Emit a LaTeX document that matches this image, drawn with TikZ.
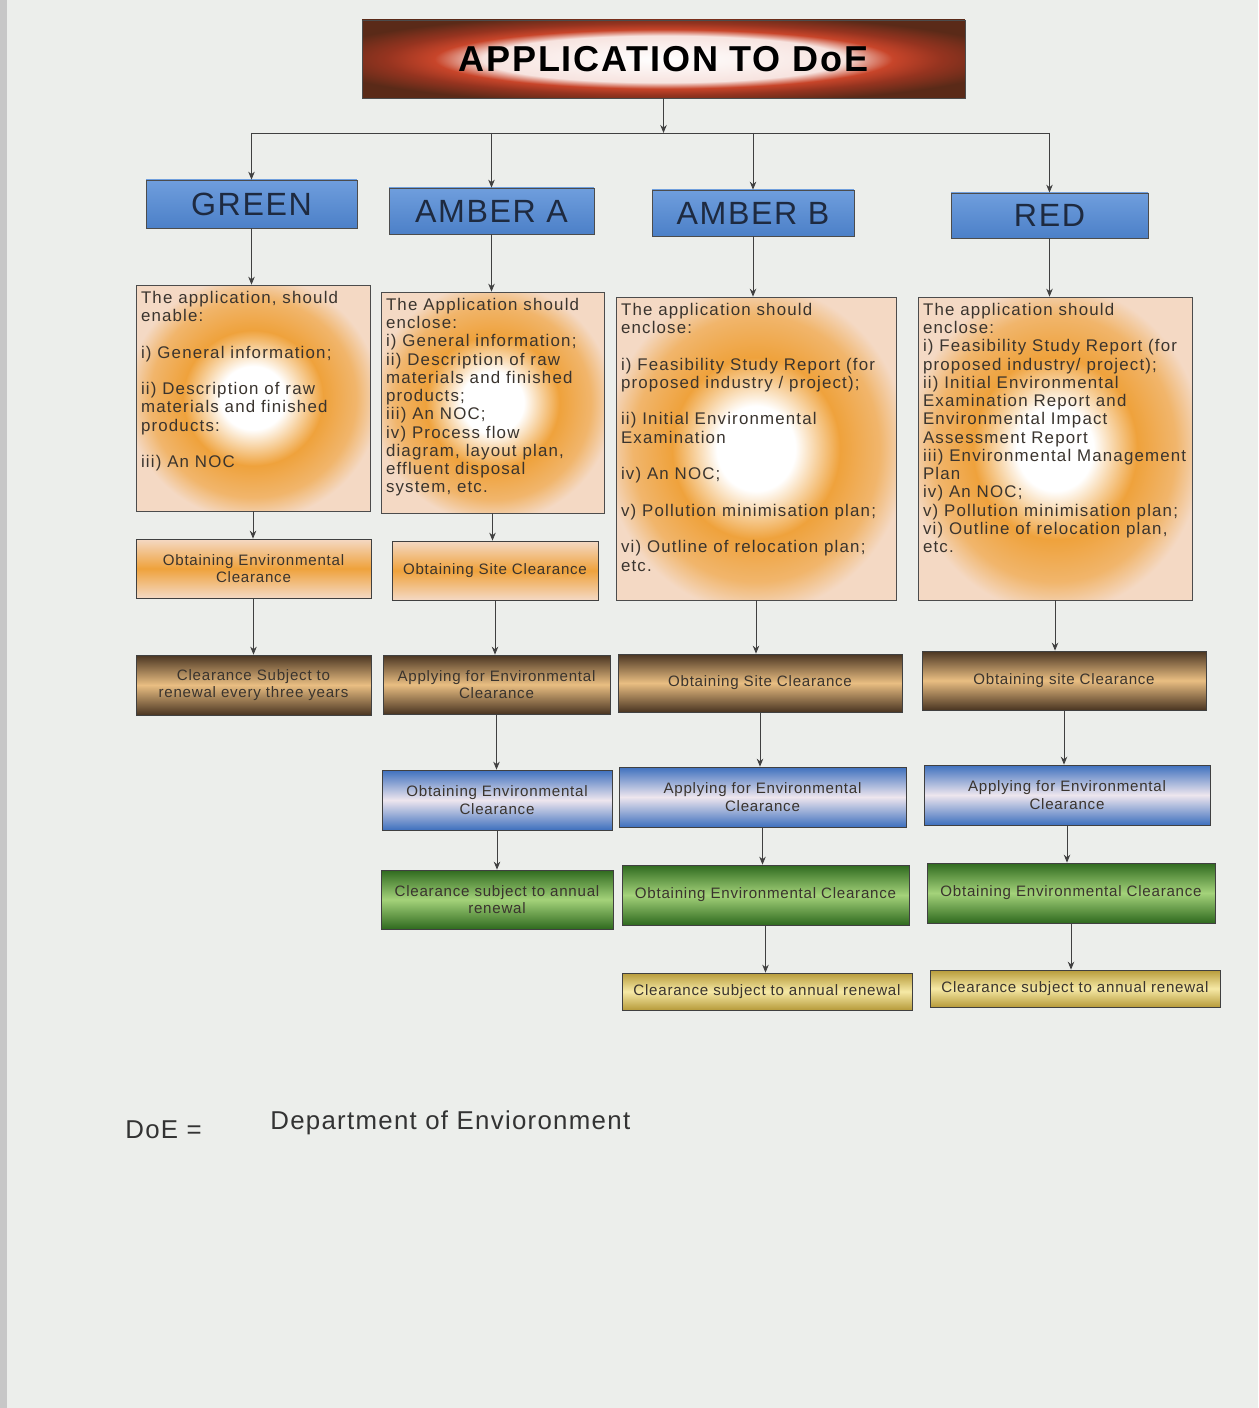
\documentclass[tikz,border=0pt]{standalone}
\usepackage{fontspec}
\setmainfont{Liberation Sans}[LetterSpace=5]
\newfontfamily\detailfont{Liberation Sans}[LetterSpace=7]
\usetikzlibrary{arrows.meta,positioning}
\definecolor{pagebg}{HTML}{ECEEEB}
\definecolor{hdrtop}{HTML}{6F9EDD}
\definecolor{hdrbot}{HTML}{4C80C8}
\definecolor{hdrtext}{HTML}{1E2A40}
\definecolor{ringorange}{HTML}{EFA23C}
\definecolor{ringedge}{HTML}{F4D9C4}
\definecolor{brndark}{HTML}{4A3522}
\definecolor{brntan}{HTML}{E9BE82}
\definecolor{bluedark}{HTML}{3E70BE}
\definecolor{bluelight}{HTML}{EEE6EE}
\definecolor{grndark}{HTML}{2F6A1F}
\definecolor{grnlight}{HTML}{A4D27A}
\definecolor{golddark}{HTML}{B79B3A}
\definecolor{goldlight}{HTML}{F6E9A6}
\definecolor{titlered}{HTML}{C8452A}
\definecolor{titlebrown}{HTML}{5A2A18}
\definecolor{txt}{HTML}{3A342E}
\pgfdeclareradialshading{ringfill}{\pgfpoint{0bp}{0bp}}{color(0bp)=(white); color(7bp)=(white); color(15bp)=(ringorange); color(22bp)=(ringorange!65!ringedge); color(27bp)=(ringedge); color(50bp)=(ringedge)}
\pgfdeclareradialshading{titlefill}{\pgfpoint{0bp}{0bp}}{color(0bp)=(white); color(15bp)=(white!85!titlered); color(19bp)=(titlered); color(23bp)=(titlered!75!black); color(29bp)=(titlebrown); color(50bp)=(titlebrown)}
\newcommand{\detailtext}[3]{\parbox[c][#2][t]{#1}{\raggedright #3}}
\tikzset{
  titlebox/.style={draw=black!70, shade, shading=titlefill, font=\bfseries\fontsize{20.5}{24}\selectfont, inner sep=0pt, minimum width=12.06cm, minimum height=1.56cm},
  hdr/.style={draw=black!70, top color=hdrtop, bottom color=hdrbot, text=hdrtext, font=\fontsize{18.3}{20}\selectfont, inner sep=0pt},
  detail/.style={draw=black!70, shade, shading=ringfill, inner xsep=0.1cm, inner ysep=0.12cm, text=txt, font=\detailfont\fontsize{9.6}{10.4}\selectfont},
  cbox/.style={draw=black!75, align=center, inner sep=1pt, text=txt, font=\fontsize{8.6}{9.8}\selectfont},
  orangebox/.style={cbox, top color=ringedge, bottom color=ringedge, middle color=ringorange},
  brownbox/.style={cbox, top color=brndark, bottom color=brndark, middle color=brntan},
  bluebox/.style={cbox, top color=bluedark, bottom color=bluedark, middle color=bluelight},
  greenbox/.style={cbox, top color=grndark, bottom color=grndark, middle color=grnlight},
  goldbox/.style={cbox, top color=golddark, bottom color=golddark, middle color=goldlight},
  foot/.style={inner sep=0pt, anchor=west, text=black!80, font=\fontsize{14.7}{17}\selectfont},
  arr/.style={-{Stealth[length=1.6mm,width=1.3mm]}, line width=0.5pt, draw=black!75},
  plain/.style={line width=0.5pt, draw=black!75},
}
\begin{document}
\begin{tikzpicture}[x=0.02cm,y=-0.02cm]
\useasboundingbox (0,0) rectangle (1258,1408);
\fill[pagebg] (0,0) rectangle (1258,1408);
\fill[black!22] (0,0) rectangle (7,1408);
% title and categories
\node[titlebox] (title) at (663.5,59) {APPLICATION TO DoE};
\coordinate (bus) at (666,133);
\node[hdr, minimum width=4.22cm, minimum height=0.96cm] (hG) at (251.5,204) {GREEN};
\node[hdr, minimum width=4.10cm, minimum height=0.92cm] (hA) at (491.5,211) {AMBER A};
\node[hdr, minimum width=4.04cm, minimum height=0.92cm] (hB) at (753,213) {AMBER B};
\node[hdr, minimum width=3.94cm, minimum height=0.90cm] (hR) at (1049.5,215.5) {RED};
% what the application encloses
\node[detail] (dG) at (253,398) {\detailtext{4.48cm}{4.28cm}{The application, should\\ enable:\\[10.4pt] i) General information;\\[10.4pt] ii) Description of raw\\ materials and finished\\ products:\\[10.4pt] iii) An NOC}};
\node[detail] (dA) at (492.5,402.5) {\detailtext{4.26cm}{4.18cm}{The Application should\\ enclose:\\ i) General information;\\ ii) Description of raw\\ materials and finished\\ products;\\ iii) An NOC;\\ iv) Process flow\\ diagram, layout plan,\\ effluent disposal\\ system, etc.}};
\node[detail] (dB) at (756,448.5) {\detailtext{5.40cm}{5.82cm}{The application should\\ enclose:\\[10.4pt] i) Feasibility Study Report (for\\ proposed industry / project);\\[10.4pt] ii) Initial Environmental\\ Examination\\[10.4pt] iv) An NOC;\\[10.4pt] v) Pollution minimisation plan;\\[10.4pt] vi) Outline of relocation plan;\\ etc.}};
\node[detail] (dR) at (1055,448.5) {\detailtext{5.28cm}{5.82cm}{The application should\\ enclose:\\ i) Feasibility Study Report (for\\ proposed industry/ project);\\ ii) Initial Environmental\\ Examination Report and\\ Environmental Impact\\ Assessment Report\\ iii) Environmental Management\\ Plan\\ iv) An NOC;\\ v) Pollution minimisation plan;\\ vi) Outline of relocation plan,\\ etc.}};
% steps
\node[orangebox, minimum width=4.70cm, minimum height=1.18cm] (G2) at (253.5,568.5) {Obtaining Environmental\\Clearance};
\node[orangebox, minimum width=4.12cm, minimum height=1.18cm] (A2) at (495,570.5) {Obtaining Site Clearance};
\node[brownbox, minimum width=4.70cm, minimum height=1.20cm] (G3) at (253.5,685) {Clearance Subject to\\renewal every three years};
\node[brownbox, minimum width=4.54cm, minimum height=1.18cm] (A3) at (496.5,684.5) {Applying for Environmental\\Clearance};
\node[brownbox, minimum width=5.68cm, minimum height=1.16cm] (B3) at (760,683) {Obtaining Site Clearance};
\node[brownbox, minimum width=5.68cm, minimum height=1.18cm] (R3) at (1064,680.5) {Obtaining site Clearance};
\node[bluebox, minimum width=4.60cm, minimum height=1.20cm] (A4) at (497,800) {Obtaining Environmental\\Clearance};
\node[bluebox, minimum width=5.74cm, minimum height=1.20cm] (B4) at (762.5,797) {Applying for Environmental\\Clearance};
\node[bluebox, minimum width=5.72cm, minimum height=1.20cm] (R4) at (1067,795) {Applying for Environmental\\Clearance};
\node[greenbox, minimum width=4.64cm, minimum height=1.18cm] (A5) at (497,899.5) {Clearance subject to annual\\renewal};
\node[greenbox, minimum width=5.74cm, minimum height=1.20cm] (B5) at (765.5,895) {Obtaining Environmental Clearance};
\node[greenbox, minimum width=5.76cm, minimum height=1.20cm] (R5) at (1071,893) {Obtaining Environmental Clearance};
\node[goldbox, minimum width=5.80cm, minimum height=0.74cm] (B6) at (767,991.5) {Clearance subject to annual renewal};
\node[goldbox, minimum width=5.80cm, minimum height=0.74cm] (R6) at (1075,988.5) {Clearance subject to annual renewal};
% legend
\node[foot] (doe) at (125,1130) {DoE =};
\node[foot] (dept) at (270,1123) {Department of Envioronment};
% connectors
\draw[arr] (title.south) -- (title.south |- bus);
\draw[plain] (hG.north |- bus) -- (hR.north |- bus);
\foreach \n in {hG,hA,hB,hR}
  \draw[arr] (\n.north |- bus) -- (\n.north);
\foreach \a/\b in {hG/dG, dG/G2, G2/G3, hA/dA, dA/A2, A2/A3, A3/A4, A4/A5, hB/dB, dB/B3, B3/B4, B4/B5, B5/B6, hR/dR, dR/R3, R3/R4, R4/R5, R5/R6}
  \draw[arr] (\a.south) -- (\a.south |- \b.north);
\end{tikzpicture}
\end{document}
